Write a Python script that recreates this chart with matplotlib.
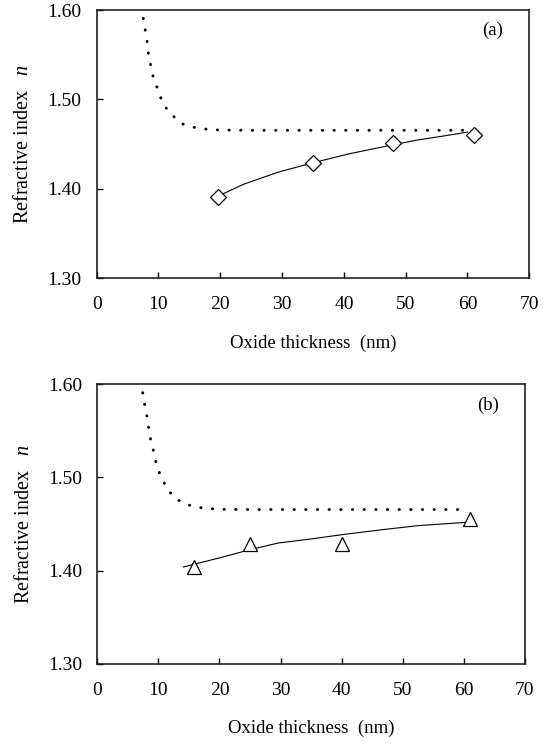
import matplotlib
matplotlib.use("Agg")
import matplotlib.pyplot as plt

plt.rcParams['font.family'] = ['Liberation Serif', 'DejaVu Serif']
plt.rcParams['mathtext.fontset'] = 'custom'
plt.rcParams['mathtext.rm'] = 'Liberation Serif'
plt.rcParams['mathtext.it'] = 'Liberation Serif:italic'

# ---- Panel (a) ----
a_model_x = [7.54, 7.82, 8.09, 8.19, 8.41, 8.74, 9.11, 9.6, 10.08, 10.78, 11.54, 12.67,
             13.96, 16.0, 17.96, 20.0, 25, 30, 35, 40, 45, 50, 55, 60]
a_model_n = [1.5907, 1.5788, 1.5709, 1.5616, 1.5489, 1.5382, 1.5262, 1.5169, 1.5061, 1.4957,
             1.4871, 1.4796, 1.4725, 1.4684, 1.4666, 1.4658, 1.4655, 1.4655, 1.4655, 1.4655,
             1.4655, 1.4655, 1.4655, 1.4655]
a_fit_x = [20, 23.7, 29.4, 35, 40.7, 46.3, 51.9, 56, 60]
a_fit_n = [1.393, 1.405, 1.4188, 1.4292, 1.439, 1.447, 1.4547, 1.459, 1.4635]
a_meas_x = [19.7, 35.0, 48.0, 61.0]
a_meas_n = [1.3913, 1.4292, 1.4509, 1.4607]

# ---- Panel (b) ----
b_model_x = [7.43, 7.69, 7.97, 8.25, 8.51, 8.79, 9.28, 9.56, 10.1, 10.64, 11.62, 12.44,
             13.98, 15.88, 18.0, 19.9, 25, 30, 35, 40, 45, 50, 55, 60]
b_model_n = [1.5907, 1.580, 1.570, 1.5614, 1.5489, 1.5379, 1.5264, 1.5172, 1.506, 1.4971,
             1.4872, 1.4786, 1.4728, 1.4682, 1.4668, 1.4657, 1.4655, 1.4655, 1.4655, 1.4655,
             1.4655, 1.4655, 1.4655, 1.4655]
b_fit_x = [14.1, 19.95, 25, 29.6, 35, 40.1, 46.75, 52.45, 60.4]
b_fit_n = [1.404, 1.4136, 1.4225, 1.4296, 1.434, 1.4386, 1.444, 1.4482, 1.4518]
b_meas_x = [15.8, 25.0, 40.1, 61.0]
b_meas_n = [1.404, 1.4286, 1.4286, 1.4557]

x_ticks = [0, 10, 20, 30, 40, 50, 60, 70]
y_ticks = [1.30, 1.40, 1.50, 1.60]
y_ticklabels = ['1.30', '1.40', '1.50', '1.60']
panel_labels = ['(a)', '(b)']

fig = plt.figure(figsize=(5.46, 7.49), dpi=100)
ax_a = fig.add_axes([0.1771, 0.6284, 0.7923, 0.3582])
ax_b = fig.add_axes([0.1782, 0.1135, 0.7833, 0.3738])

panels = [
    (ax_a, a_model_x, a_model_n, a_fit_x, a_fit_n, a_meas_x, a_meas_n, 'D', 8, panel_labels[0]),
    (ax_b, b_model_x, b_model_n, b_fit_x, b_fit_n, b_meas_x, b_meas_n, '^', 10, panel_labels[1]),
]

for ax, mx, mn, fx, fn, sx, sn, mk, ms, lab in panels:
    ax.plot(mx, mn, color='black', lw=2.1, linestyle=(0, (0.1, 3.9)),
            dash_capstyle='round')
    ax.plot(fx, fn, color='black', lw=0.8)
    ax.plot(sx, sn, linestyle='none', marker=mk, markersize=ms,
            markerfacecolor='white', markeredgecolor='black', markeredgewidth=0.9)
    ax.set_xlim(0, 70)
    ax.set_ylim(1.30, 1.60)
    ax.set_xticks(x_ticks)
    ax.set_yticks(y_ticks)
    ax.set_yticklabels(y_ticklabels)
    ax.tick_params(direction='in', length=4, width=1, labelsize=14)
    ax.tick_params(axis='y', pad=11)
    ax.tick_params(axis='x', pad=13)
    for s in ax.spines.values():
        s.set_linewidth(1.2)
        s.set_color('#222222')
    ax.set_xlabel('Oxide thickness  (nm)', fontsize=13.5, labelpad=15)
    ax.set_ylabel('Refractive index   $n$', fontsize=14.5, labelpad=10)
    ax.text(0.94, 0.925, lab, transform=ax.transAxes, fontsize=13.5,
            ha='right', va='center')

fig.savefig('out.png', dpi=100)
